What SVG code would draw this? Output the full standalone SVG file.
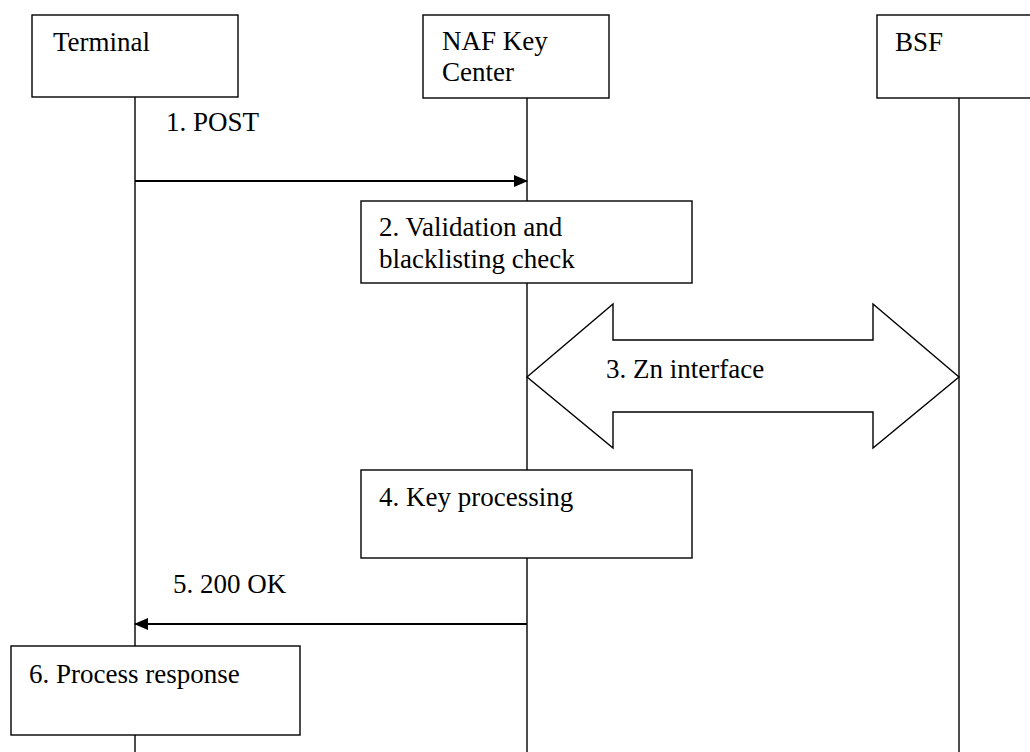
<svg xmlns="http://www.w3.org/2000/svg" width="1030" height="752" viewBox="0 0 1030 752">
<defs>
<style>
.box{fill:#fff;stroke:#000;stroke-width:1.4}
.life{stroke:#000;stroke-width:1.4;fill:none}
.msg{stroke:#000;stroke-width:2;fill:none}
</style>
<marker id="ah" markerWidth="14" markerHeight="12" refX="13" refY="6" orient="auto" markerUnits="userSpaceOnUse">
<path d="M0,0 L14,6 L0,12 Z" fill="#000"/>
</marker>
</defs>
<rect width="1030" height="752" fill="#fff"/>
<g font-family="Liberation Serif, Times New Roman, DejaVu Serif, serif" font-size="27" fill="#000">
<g id="lifelines">
<line class="life" x1="135" y1="97" x2="135" y2="752"/>
<line class="life" x1="527" y1="98" x2="527" y2="752"/>
<line class="life" x1="959" y1="98" x2="959" y2="752"/>
</g>
<g id="terminal">
<rect class="box" x="32" y="15" width="206" height="82"/>
<text x="53" y="51">Terminal</text>
</g>
<g id="naf">
<rect class="box" x="423" y="15" width="186" height="83"/>
<text x="442" y="50">NAF Key</text>
<text x="442" y="81">Center</text>
</g>
<g id="bsf">
<rect class="box" x="877" y="15" width="160" height="83"/>
<text x="895" y="51">BSF</text>
</g>
<g id="connectors">
<line class="msg" x1="135" y1="181" x2="527" y2="181" marker-end="url(#ah)"/>
<text x="166" y="131">1. POST</text>
<line class="msg" x1="527" y1="624" x2="135" y2="624" marker-end="url(#ah)"/>
<text x="173" y="593">5. 200 OK</text>
</g>
<g id="step2">
<rect class="box" x="361" y="201" width="331" height="82"/>
<text x="379" y="236">2. Validation and</text>
<text x="379" y="268">blacklisting check</text>
</g>
<g id="step3">
<polygon class="box" points="527,377 613,304 613,340 873,340 873,304 959,377 873,448 873,412 613,412 613,448"/>
<text x="606" y="378">3. Zn interface</text>
</g>
<g id="step4">
<rect class="box" x="361" y="470" width="331" height="88"/>
<text x="379" y="506">4. Key processing</text>
</g>
<g id="step6">
<rect class="box" x="11" y="646" width="289" height="89"/>
<text x="29" y="683">6. Process response</text>
</g>
</g>
</svg>
